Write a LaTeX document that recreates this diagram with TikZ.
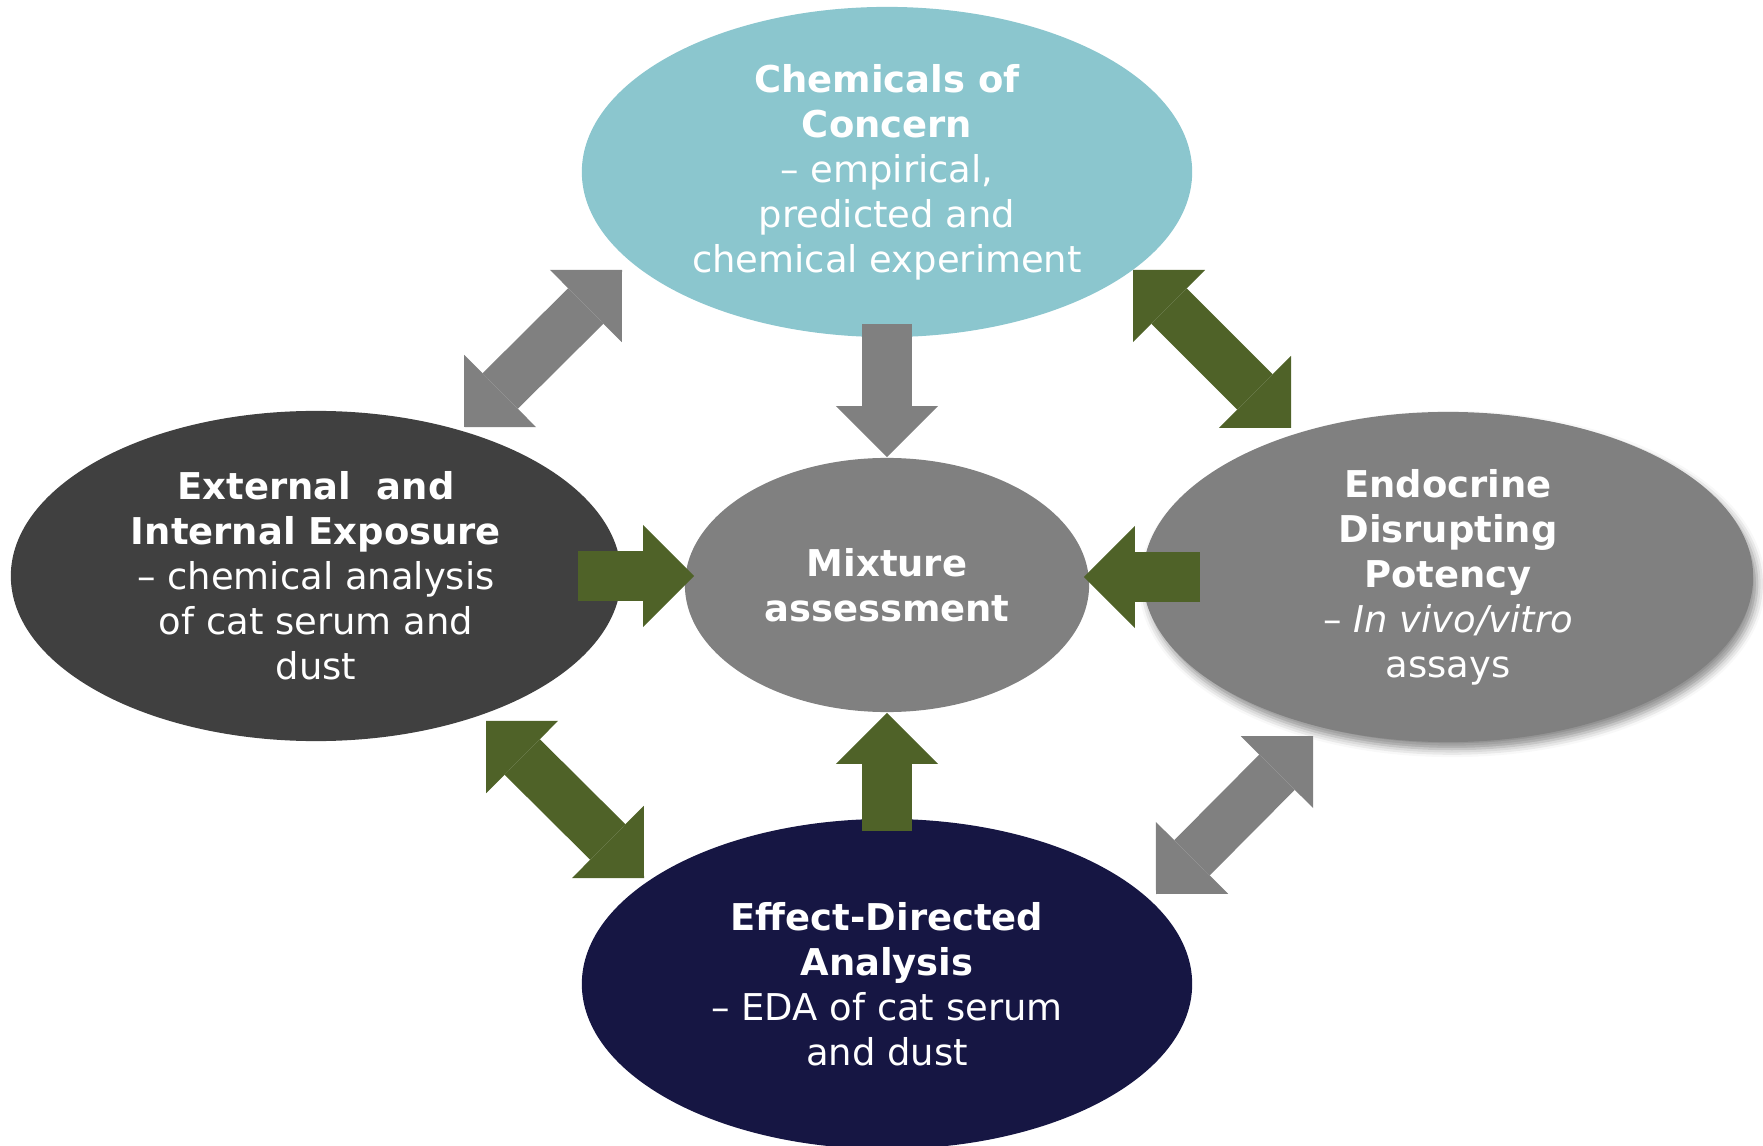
\documentclass[tikz,border=0pt]{standalone}
\usepackage{fontspec}
\setmainfont{DejaVu Sans}
\usetikzlibrary{shapes.geometric,arrows.meta,shadows.blur}

\definecolor{chemteal}{HTML}{8BC6CE}
\definecolor{expdark}{HTML}{404040}
\definecolor{midgrey}{HTML}{808080}
\definecolor{edanavy}{HTML}{161643}
\definecolor{olive}{HTML}{4F6228}

\newcommand{\bubblefont}{\fontsize{10.5pt}{12.8pt}\selectfont}

\begin{document}
\begin{tikzpicture}[x=0.01cm, y=-0.01cm,
    bubble/.style={ellipse, inner sep=0pt, minimum width=6.1cm, minimum height=3.3cm,
      text=white, align=center, font=\bubblefont},
    block/.style={line width=0.5cm, line cap=butt},
    >={Triangle[length=0.51cm, width=1.02cm, line width=0pt]}]
  \useasboundingbox (0,0) rectangle (1763,1146);

  \node[bubble, fill=chemteal] (chem) at (887,172)
    {\textbf{Chemicals of}\\\textbf{Concern}\\– empirical,\\predicted and\\chemical experiment};
  \node[bubble, fill=expdark] (expo) at (316,576)
    {\textbf{External~ and}\\\textbf{Internal Exposure}\\– chemical analysis\\of cat serum and\\dust};
  \node[bubble, fill=midgrey,
    blur shadow={shadow xshift=0.04cm, shadow yshift=-0.07cm, shadow blur radius=0.08cm, shadow opacity=45}]
    (edp) at (1448,577)
    {\textbf{Endocrine}\\\textbf{Disrupting}\\\textbf{Potency}\\– \textit{In vivo/vitro}\\assays};
  \node[bubble, fill=edanavy] (eda) at (887,984)
    {\textbf{Effect-Directed}\\\textbf{Analysis}\\– EDA of cat serum\\and dust};
  \node[bubble, fill=midgrey, minimum width=4.04cm, minimum height=2.54cm] (mix) at (887,585)
    {\textbf{Mixture}\\\textbf{assessment}};

  % arrows into the mixture assessment
  \draw[block, midgrey, ->] ([yshift=0.14cm]chem.south) -- (mix.north);
  \draw[block, olive, ->] ([yshift=-0.13cm]eda.north) -- (mix.south);
  \draw[block, olive, ->] ([xshift=-0.44cm]expo.east) -- ([xshift=0.1cm]expo.east -| mix.west);
  \draw[block, olive, ->] ([xshift=0.58cm]edp.west) -- ([xshift=-0.06cm]edp.west -| mix.east);

  % two-way arrows round the ring
  \coordinate (expchem-a) at (464,427);
  \coordinate (expchem-b) at (622,270);
  \coordinate (chemedp-a) at (1133,270);
  \coordinate (chemedp-b) at (1291,428);
  \coordinate (expeda-a) at (486,721);
  \coordinate (expeda-b) at (644,878);
  \coordinate (edaedp-a) at (1156,894);
  \coordinate (edaedp-b) at (1313,736);
  \draw[block, midgrey, <->] (expchem-a) -- (expchem-b);
  \draw[block, olive, <->] (chemedp-a) -- (chemedp-b);
  \draw[block, olive, <->] (expeda-a) -- (expeda-b);
  \draw[block, midgrey, <->] (edaedp-a) -- (edaedp-b);
\end{tikzpicture}
\end{document}
